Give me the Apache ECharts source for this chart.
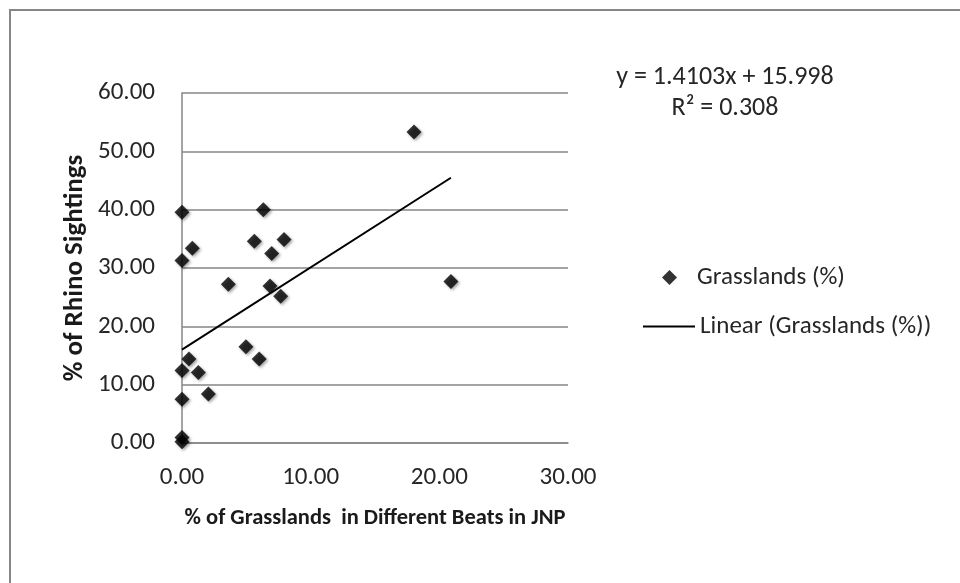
<!DOCTYPE html>
<html>
<head>
<meta charset="utf-8">
<script src="https://cdn.jsdelivr.net/npm/echarts@6/dist/echarts.min.js"></script>
<style>
html,body{margin:0;padding:0;background:#fff;}
#chart{width:960px;height:583px;}
</style>
</head>
<body>
<div id="chart"></div>
<script>
// Data
const grassX = [0.00, 6.32, 0.80, 0.00, 5.62, 7.93, 6.97, 3.60, 6.84, 7.67, 4.97, 6.00, 0.54, 0.00, 1.27, 2.05, 0.00, 0.00, 0.00, 18.03, 20.90];
const rhinoY = [39.55, 40.00, 33.40, 31.30, 34.60, 34.90, 32.50, 27.20, 26.90, 25.15, 16.50, 14.40, 14.40, 12.45, 12.10, 8.40, 7.50, 0.95, 0.20, 53.30, 27.70];
const SLOPE = 1.4103;
const INTERCEPT = 15.998;
const R2 = 0.308;
const xTicks = [0, 10, 20, 30];
const yTicks = [0, 10, 20, 30, 40, 50, 60];

const points = grassX.map((x, i) => [x, rhinoY[i]]);
const xMin = Math.min(...grassX), xMax = Math.max(...grassX);
const trend = [[xMin, SLOPE * xMin + INTERCEPT], [xMax, SLOPE * xMax + INTERCEPT]];

const FONT = 'Carlito, Lato, "Open Sans", sans-serif';
const FS = 25;
const chart = echarts.init(document.getElementById('chart'), null, {renderer: 'canvas'});
chart.setOption({
  animation: false,
  backgroundColor: '#ffffff',
  textStyle: {fontFamily: FONT},
  grid: {left: 182, right: 392, top: 93, bottom: 140, containLabel: false},
  xAxis: {
    type: 'value', min: xTicks[0], max: xTicks[xTicks.length - 1], interval: 10,
    name: '% of Grasslands  in Different Beats in JNP',
    nameLocation: 'middle', nameGap: 64,
    nameTextStyle: {fontFamily: FONT, fontSize: 22.5, fontWeight: 'bold', color: '#1a1a1a'},
    axisLine: {show: true, onZero: false, lineStyle: {color: '#868686', width: 1.5}},
    axisTick: {show: false},
    splitLine: {show: false},
    axisLabel: {fontFamily: FONT, fontSize: FS, color: '#262626', margin: 22, formatter: v => v.toFixed(2)}
  },
  yAxis: {
    type: 'value', min: yTicks[0], max: yTicks[yTicks.length - 1], interval: 10,
    name: '% of Rhino Sightings',
    nameLocation: 'middle', nameGap: 93, nameRotate: 90,
    nameTextStyle: {fontFamily: FONT, fontSize: 27, fontWeight: 'bold', color: '#1a1a1a'},
    axisLine: {show: true, lineStyle: {color: '#868686', width: 1.5}},
    axisTick: {show: false},
    splitLine: {show: true, lineStyle: {color: '#868686', width: 1.5}},
    axisLabel: {fontFamily: FONT, fontSize: FS, color: '#262626', margin: 27, formatter: v => v.toFixed(2)}
  },
  legend: [
    {
      data: [{name: 'Grasslands (%)', icon: 'diamond'}],
      left: 657, top: 260, itemWidth: 15, itemHeight: 15, itemGap: 5,
      textStyle: {fontFamily: FONT, fontSize: FS, color: '#262626', padding: [0, 0, 0, 15]}
    },
    {
      data: [{name: 'Linear (Grasslands (%))', icon: 'rect'}],
      left: 638, top: 309, itemWidth: 52, itemHeight: 2, itemGap: 5,
      textStyle: {fontFamily: FONT, fontSize: FS, color: '#262626'}
    }
  ],
  graphic: [
    {type: 'rect', z: -10, silent: true, shape: {x: 10, y: 10, width: 1000, height: 1000},
     style: {fill: 'none', stroke: '#868686', lineWidth: 2}},
    {type: 'text', x: 725, y: 77, silent: true,
     style: {text: 'y = ' + SLOPE + 'x + ' + INTERCEPT, font: '26px ' + FONT, fill: '#262626', textAlign: 'center', textVerticalAlign: 'middle'}},
    {type: 'text', x: 725, y: 108, silent: true,
     style: {text: 'R² = ' + R2, font: '26px ' + FONT, fill: '#262626', textAlign: 'center', textVerticalAlign: 'middle'}}
  ],
  series: [
    {
      name: 'Grasslands (%)', type: 'scatter', data: points,
      symbol: 'diamond', symbolSize: 15, z: 3,
      itemStyle: {color: '#000000', shadowColor: 'rgba(0,0,0,0.45)', shadowBlur: 3, shadowOffsetX: 1.5, shadowOffsetY: 1.5}
    },
    {
      name: 'Linear (Grasslands (%))', type: 'line', data: trend,
      symbol: 'none', showSymbol: false, z: 2,
      lineStyle: {color: '#000000', width: 2},
      itemStyle: {color: '#000000'}
    }
  ]
});
</script>
</body>
</html>
